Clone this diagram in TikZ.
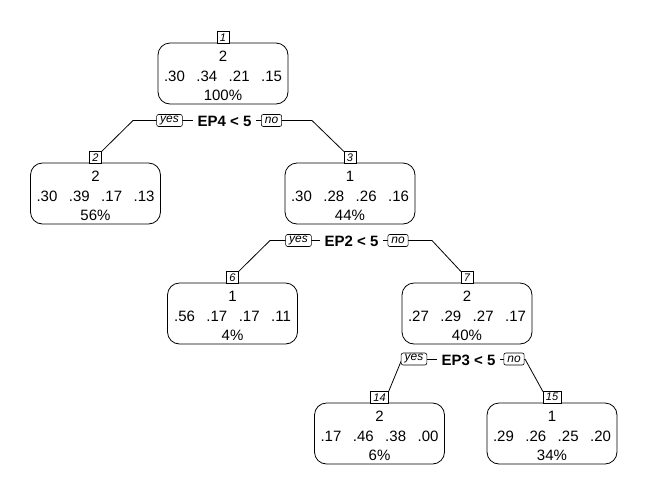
\documentclass[tikz,border=0pt]{standalone}
\usepackage{fontspec}
\setmainfont{Liberation Sans}
\usetikzlibrary{backgrounds}
% class probabilities, spaced as in a printed row
\newcommand{\probrow}[4]{#1\hspace{11.5pt}#2\hspace{11.5pt}#3\hspace{11.5pt}#4}
% first line of a leaf, with a strut that sets the top margin
\newcommand{\firstrow}[1]{\rule{0pt}{15.7pt}#1}
\begin{document}
\begin{tikzpicture}[x=1pt,y=-1pt,
  every node/.style={outer sep=0pt},
  leaf/.style={draw, rounded corners=12pt, minimum width=130pt, minimum height=61pt,
    align=center, font=\fontsize{15}{19.5}\selectfont, line width=0.8pt, fill=white, inner sep=0pt},
  nodeid/.style={draw, anchor=south, font=\fontsize{11}{12}\selectfont\itshape,
    inner xsep=3pt, inner ysep=0pt, minimum height=11.5pt, line width=0.6pt, fill=white},
  splittext/.style={fill=white, font=\fontsize{15}{18}\selectfont\bfseries, inner xsep=5pt, inner ysep=1pt},
  answer/.style={draw, rounded corners=2pt, fill=white, font=\fontsize{12}{13}\selectfont\itshape,
    inner xsep=3.5pt, inner ysep=0pt, minimum height=12pt, line width=0.6pt},
  branch/.style={line width=0.8pt}]
\useasboundingbox (0,0) rectangle (648,496);

% tree nodes
\node[leaf] (n1)  at (223,73.5)   {\firstrow{2}\\\probrow{.30}{.34}{.21}{.15}\\100\%};
\node[leaf] (n2)  at (95.5,193.5) {\firstrow{2}\\\probrow{.30}{.39}{.17}{.13}\\56\%};
\node[leaf] (n3)  at (350,193.5)  {\firstrow{1}\\\probrow{.30}{.28}{.26}{.16}\\44\%};
\node[leaf] (n6)  at (232.5,313.5){\firstrow{1}\\\probrow{.56}{.17}{.17}{.11}\\4\%};
\node[leaf] (n7)  at (467,313.5)  {\firstrow{2}\\\probrow{.27}{.29}{.27}{.17}\\40\%};
\node[leaf] (n14) at (379.5,433.5){\firstrow{2}\\\probrow{.17}{.46}{.38}{.00}\\6\%};
\node[leaf] (n15) at (552,433.5)  {\firstrow{1}\\\probrow{.29}{.26}{.25}{.20}\\34\%};

% node numbers
\node[nodeid] (l1)  at (n1.north)  {1};
\node[nodeid] (l2)  at (n2.north)  {2};
\node[nodeid] (l3)  at (n3.north)  {3};
\node[nodeid] (l6)  at (n6.north)  {6};
\node[nodeid] (l7)  at (n7.north)  {7};
\node[nodeid] (l14) at (n14.north) {14};
\node[nodeid] (l15) at (n15.north) {15};

% split labels
\node[splittext] (s1) at (224.5,121.5) {EP4 < 5};
\node[answer] (y1) at (169.5,120.5) {yes};
\node[answer] (o1) at (271.5,120.5) {no};
\node[splittext] (s2) at (351.5,241.5) {EP2 < 5};
\node[answer] (y2) at (298.5,240.5) {yes};
\node[answer] (o2) at (398,240.5) {no};
\node[splittext] (s3) at (468.5,360) {EP3 < 5};
\node[answer] (y3) at (414,359) {yes};
\node[answer] (o3) at (514,359) {no};

% branch corners
\coordinate (c1l) at (133,120.5);
\coordinate (c1r) at (312,120.5);
\coordinate (c2l) at (270,240.5);
\coordinate (c2r) at (432,240.5);
\coordinate (c3l) at (402,359);
\coordinate (c3r) at (525,359);

\begin{scope}[on background layer]
  \draw[branch] (c1l) -- (c1r);
  \draw[branch] (c1l) -- (l2.north east);
  \draw[branch] (c1r) -- (l3.north west);
  \draw[branch] (c2l) -- (c2r);
  \draw[branch] (c2l) -- (l6.north east);
  \draw[branch] (c2r) -- (l7.north west);
  \draw[branch] (c3l) -- (c3r);
  \draw[branch] (c3l) -- (l14.north east);
  \draw[branch] (c3r) -- (l15.north west);
\end{scope}
\end{tikzpicture}
\end{document}
